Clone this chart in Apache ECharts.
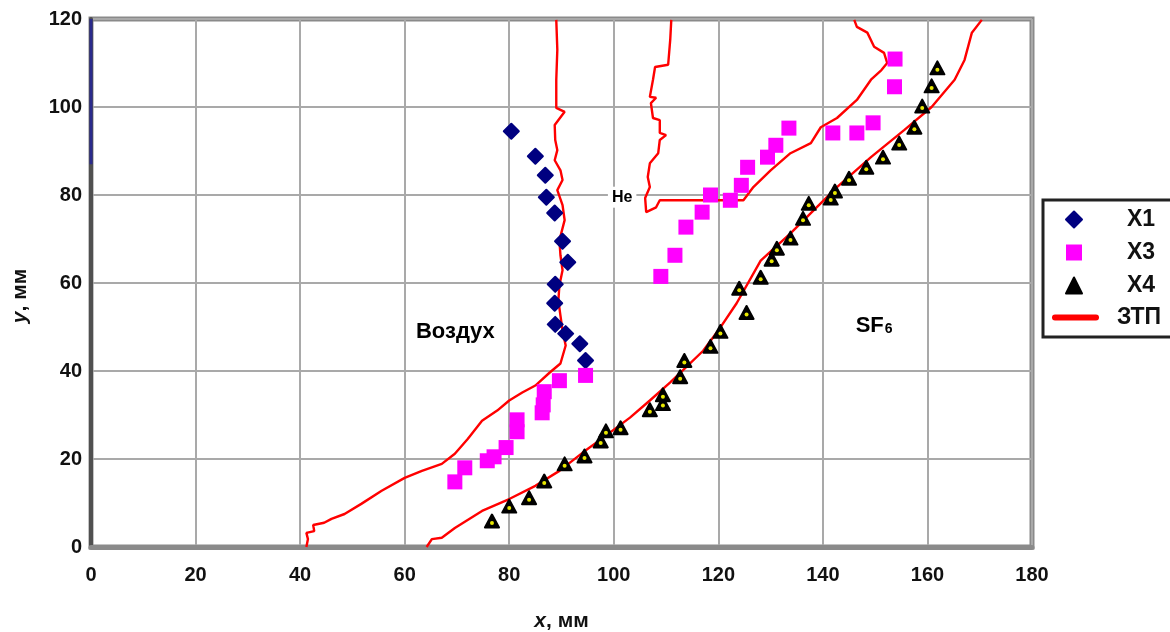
<!DOCTYPE html>
<html>
<head>
<meta charset="utf-8">
<script src="https://cdn.jsdelivr.net/npm/echarts@6/dist/echarts.min.js"></script>
<style>
html,body{margin:0;padding:0;background:#fff;}
#chart{width:1170px;height:632px;}
</style>
</head>
<body>
<div id="chart"></div>
<script>
// Axis ticks
const xTicks = [0, 20, 40, 60, 80, 100, 120, 140, 160, 180];
const yTicks = [0, 20, 40, 60, 80, 100, 120];

// X1 points (x mm, y mm)
const x1Data = [[80.4,94.5],[85.0,88.8],[86.9,84.5],[87.1,79.5],[88.7,75.9],[90.2,69.5],[91.2,64.7],[88.8,59.7],[88.7,55.4],[88.8,50.6],[90.8,48.5],[93.5,46.2],[94.6,42.4]];

// X3 points
const x3Data = [[69.6,14.8],[71.5,18.0],[75.8,19.6],[77.1,20.5],[79.4,22.6],[81.5,26.2],[81.5,28.9],[86.3,30.5],[86.5,32.3],[86.7,35.3],[89.6,37.8],[94.6,39.0],
  [109.0,61.5],[111.7,66.3],[113.8,72.7],[116.9,76.1],[118.5,80.0],[122.3,78.8],[124.4,82.2],[125.6,86.3],[129.4,88.6],[131.0,91.3],[133.5,95.2],[141.9,94.1],[146.5,94.1],[149.6,96.4],[153.7,104.6],[153.8,110.9]];

// X4 points
const x4Data = [[76.7,5.9],[80.0,9.3],[83.8,11.2],[86.7,15.0],[90.6,18.9],[94.4,20.7],[97.5,24.1],[98.5,26.4],[101.3,27.1],[106.9,31.2],[109.4,32.6],[109.4,34.6],[112.7,38.7],[113.5,42.4],[118.5,45.6],[120.4,49.0],[124.0,58.8],[125.4,53.3],[128.1,61.3],[130.2,65.4],[131.2,67.9],[133.8,70.2],[136.2,74.7],[137.3,78.1],[141.5,79.3],[142.3,80.9],[145.0,83.8],[148.3,86.3],[151.5,88.6],[154.6,91.8],[157.5,95.4],[159.0,100.2],[160.8,104.8],[161.9,108.9]];

// ЗТП boundaries
const ztpAir = [[41.2,0],[41.5,1.8],[41.2,3.2],[42.7,3.6],[42.5,5.0],[44.6,5.5],[46.0,6.4],[48.5,7.5],[51.7,9.8],[55.6,12.8],[60.0,15.7],[63.3,17.3],[67.1,18.9],[69.6,21.2],[72.1,24.6],[74.8,28.7],[77.7,31.0],[80.0,33.3],[82.5,35.1],[85.0,36.7],[87.7,39.6],[89.8,41.7],[90.8,45.8],[90.2,49.2],[89.8,52.6],[89.4,56.0],[89.6,59.5],[90.2,62.9],[89.8,66.3],[89.6,69.7],[90.6,74.3],[90.2,77.7],[89.2,81.1],[90.2,83.4],[89.8,85.6],[88.7,87.9],[89.2,90.2],[88.8,92.5],[88.7,95.9],[90.6,98.9],[89.0,99.8],[89.0,106.2],[89.2,113.0],[89.0,119.8]];
const ztpHe = [[111.0,119.8],[110.8,115.3],[110.4,109.6],[107.9,109.1],[107.5,106.2],[106.9,102.3],[108.1,102.1],[107.1,100.9],[107.5,97.5],[108.8,97.0],[108.8,94.1],[110.0,93.6],[108.8,92.5],[108.5,89.5],[106.9,87.2],[106.5,84.1],[106.9,81.8],[106.0,79.3],[106.2,76.1],[108.1,77.2],[108.8,78.8],[124.8,78.8],[126.7,81.8],[130.0,85.6],[133.8,89.5],[137.7,91.8],[139.6,95.4],[142.7,97.5],[146.5,101.6],[149.2,106.2],[151.2,108.4],[152.3,110.0],[151.7,112.3],[149.8,113.7],[148.5,116.9],[146.5,118.2],[146.0,119.8]];
const ztpSF6 = [[64.2,0],[65.2,1.8],[67.1,2.1],[69.6,4.3],[74.8,8.2],[80.0,10.9],[85.0,13.9],[89.6,17.3],[94.0,21.4],[97.9,24.8],[103.1,29.4],[106.9,33.3],[110.8,37.4],[113.8,40.8],[117.1,44.6],[120.4,49.9],[123.5,55.4],[128.1,65.1],[133.8,71.3],[138.8,77.2],[142.7,81.8],[149.2,88.6],[155.6,94.8],[160.8,100.0],[165.2,106.2],[167.1,110.7],[168.5,116.9],[170.4,119.8]];

// Blue segment on left edge
const edgeSeg = [[0,87],[0,120]];

// Annotation labels
const annotations = [
  {name:'Воздух', value:[69.7,48.8], kind:'big'},
  {name:'He', value:[101.6,79.5], kind:'he'},
  {name:'SF6', value:[149.8,50.8], kind:'sf6'}
];

const FONT = 'Liberation Sans, Arial, sans-serif';
const chart = echarts.init(document.getElementById('chart'), null, {renderer:'canvas'});

const redLine = (data) => ({
  name:'ЗТП', type:'line', data:data, showSymbol:false, symbol:'none',
  lineStyle:{color:'#ff0000', width:2.4}, itemStyle:{color:'#ff0000'}, z:3, silent:true
});

chart.setOption({
  animation:false,
  backgroundColor:'#fff',
  grid:{left:91, top:19, right:138, bottom:85, show:true, borderColor:'#8a8a8a', borderWidth:5, containLabel:false, outerBoundsMode:'none'},
  xAxis:{
    type:'value', min:0, max:180, interval:20,
    axisLine:{show:true, onZero:false, lineStyle:{color:'#8a8a8a', width:5}},
    axisTick:{show:false},
    splitLine:{show:true, lineStyle:{color:'#a9a9a9', width:2}},
    axisLabel:{fontFamily:FONT, fontWeight:'bold', fontSize:20, color:'#111', margin:18,
      customValues: xTicks, formatter: v => String(v)},
    name:'{i|x}{n|, мм}', nameLocation:'middle', nameGap:64,
    nameTextStyle:{rich:{i:{fontFamily:FONT, fontWeight:'bold', fontStyle:'italic', fontSize:21, color:'#111'}, n:{fontFamily:FONT, fontWeight:'bold', fontSize:21, color:'#111'}}}
  },
  yAxis:{
    type:'value', min:0, max:120, interval:20,
    axisLine:{show:true, onZero:false, lineStyle:{color:'#505050', width:4}},
    axisTick:{show:false},
    splitLine:{show:true, lineStyle:{color:'#a9a9a9', width:2}},
    axisLabel:{fontFamily:FONT, fontWeight:'bold', fontSize:20, color:'#111', margin:9,
      customValues: yTicks, formatter: v => String(v)},
    name:'{i|y}{n|, мм}', nameLocation:'middle', nameGap:60, nameRotate:90,
    nameTextStyle:{padding:[0,0,0,-26], rich:{i:{fontFamily:FONT, fontWeight:'bold', fontStyle:'italic', fontSize:21, color:'#111'}, n:{fontFamily:FONT, fontWeight:'bold', fontSize:21, color:'#111'}}}
  },
  legend:[
    {
      data:['X1','X3','X4'], orient:'vertical', left:1065, top:208, padding:0,
      itemWidth:16, itemHeight:16, itemGap:10, selectedMode:false,
      textStyle:{fontFamily:FONT, fontWeight:'bold', fontSize:23, color:'#111', lineHeight:23, padding:[0,0,0,40]}
    },
    {
      data:[{name:'ЗТП', icon:'path://M3,0 L44,0 A3,3 0 0 1 44,6 L3,6 A3,3 0 0 1 3,0 Z'}],
      orient:'vertical', left:1052, top:306, padding:0, itemWidth:47, itemHeight:6, selectedMode:false,
      textStyle:{fontFamily:FONT, fontWeight:'bold', fontSize:23, color:'#111', lineHeight:23, padding:[0,0,0,13]}
    }
  ],
  graphic:[
    {type:'rect', shape:{x:1043, y:200, width:200, height:137}, style:{fill:'#fff', stroke:'#222', lineWidth:3}, z:-1}
  ],
  series:[
    redLine(ztpAir),
    redLine(ztpHe),
    redLine(ztpSF6),
    {name:'edge', type:'line', data:edgeSeg, showSymbol:false, symbol:'none', lineStyle:{color:'#2a2a8c', width:3}, z:6, silent:true},
    {name:'X1', type:'scatter', data:x1Data, symbol:'diamond', symbolSize:15,
      itemStyle:{color:'#000080', opacity:1, borderColor:'#000080', borderWidth:2, borderJoin:'round'}, z:4},
    {name:'X3', type:'scatter', data:x3Data, symbol:'rect', symbolSize:15,
      itemStyle:{color:'#ff00ff', opacity:1}, z:4},
    {name:'X4', type:'scatter', data:x4Data, symbol:'triangle', symbolSize:[14,13],
      itemStyle:{color:'#000', opacity:1, borderColor:'#000', borderWidth:2, borderJoin:'round'}, z:5},
    {name:'X4dot', type:'scatter', data:x4Data, symbol:'circle', symbolSize:4, symbolOffset:[0,2],
      itemStyle:{color:'#e8e800', opacity:1}, z:6, silent:true},
    {name:'labels', type:'scatter', symbolSize:0, silent:true, z:7,
      itemStyle:{opacity:1},
      data: annotations.map(a => ({name:a.name, value:a.value, kind:a.kind})),
      label:{show:true, position:'inside', color:'#111', opacity:1,
        formatter: p => {
          if (p.data.kind === 'sf6') return '{a|SF}{b|6}';
          if (p.data.kind === 'he') return '{h|He}';
          return '{c|' + p.name + '}';
        },
        rich:{
          a:{fontFamily:FONT, fontWeight:'bold', fontSize:22, color:'#000', lineHeight:26, verticalAlign:'bottom'},
          b:{fontFamily:FONT, fontWeight:'bold', fontSize:14, color:'#000', lineHeight:26, verticalAlign:'bottom', padding:[8,0,0,1]},
          c:{fontFamily:FONT, fontWeight:'bold', fontSize:22, color:'#000', letterSpacing:3},
          h:{fontFamily:FONT, fontWeight:'bold', fontSize:16, color:'#000', backgroundColor:'#fff', padding:[3,4,2,4]}
        }
      }
    }
  ]
});
</script>
</body>
</html>
